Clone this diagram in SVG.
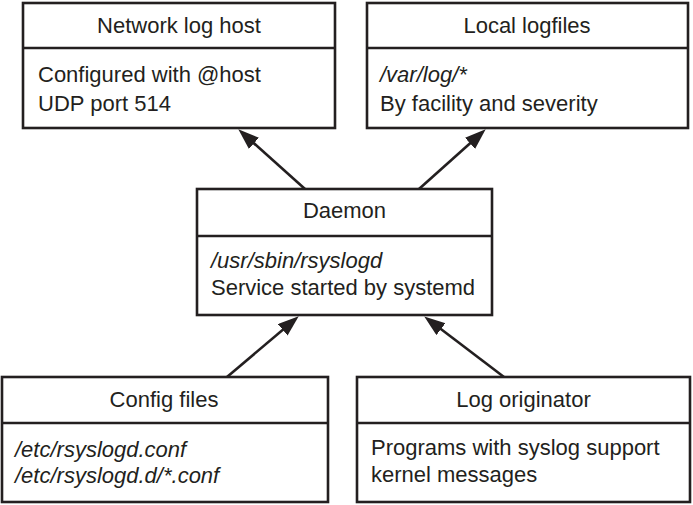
<svg xmlns="http://www.w3.org/2000/svg" width="693" height="505" viewBox="0 0 693 505">
<style>
rect.box{fill:#fff;stroke:#231f20;stroke-width:2.6}
line.div{stroke:#231f20;stroke-width:2.6}
text{font-family:"Liberation Sans",Arial,sans-serif;font-size:22px;fill:#231f20}
text.t{text-anchor:middle}
text.i{font-style:italic}
line.c{stroke:#231f20;stroke-width:2.6}
</style>
<defs>
<marker id="ah" markerUnits="userSpaceOnUse" markerWidth="22" markerHeight="16" refX="8" refY="7.5" orient="auto">
<path d="M0,0 L21,7.5 L0,15 z" fill="#231f20"/>
</marker>
</defs>
<rect width="693" height="505" fill="#fff"/>
<g id="connectors">
<line class="c" x1="305" y1="189" x2="248" y2="138" marker-end="url(#ah)"/>
<line class="c" x1="419" y1="189" x2="476" y2="138" marker-end="url(#ah)"/>
<line class="c" x1="227" y1="377" x2="288.8" y2="324.7" marker-end="url(#ah)"/>
<line class="c" x1="504" y1="377" x2="434.6" y2="324.3" marker-end="url(#ah)"/>
</g>
<g id="network-log-host">
<rect class="box" x="23" y="3" width="312" height="125"/>
<line class="div" x1="23" y1="48" x2="335" y2="48"/>
<text class="t" x="179" y="33">Network log host</text>
<text x="38" y="82">Configured with @host</text>
<text x="38" y="111">UDP port 514</text>
</g>
<g id="local-logfiles">
<rect class="box" x="367" y="3" width="321" height="125"/>
<line class="div" x1="367" y1="48" x2="688" y2="48"/>
<text class="t" x="527" y="33">Local logfiles</text>
<text class="i" x="380" y="82">/var/log/*</text>
<text x="380" y="111">By facility and severity</text>
</g>
<g id="daemon">
<rect class="box" x="197" y="189" width="295" height="126"/>
<line class="div" x1="197" y1="236" x2="492" y2="236"/>
<text class="t" x="344.5" y="218">Daemon</text>
<text class="i" x="211" y="268">/usr/sbin/rsyslogd</text>
<text x="211" y="295">Service started by systemd</text>
</g>
<g id="config-files">
<rect class="box" x="2" y="377" width="326" height="125"/>
<line class="div" x1="2" y1="423" x2="328" y2="423"/>
<text class="t" x="164" y="407">Config files</text>
<text class="i" x="15" y="457">/etc/rsyslogd.conf</text>
<text class="i" x="15" y="483">/etc/rsyslogd.d/*.conf</text>
</g>
<g id="log-originator">
<rect class="box" x="357" y="377" width="333" height="125"/>
<line class="div" x1="357" y1="423" x2="690" y2="423"/>
<text class="t" x="523.5" y="407">Log originator</text>
<text x="371" y="455">Programs with syslog support</text>
<text x="371" y="482">kernel messages</text>
</g>
</svg>
